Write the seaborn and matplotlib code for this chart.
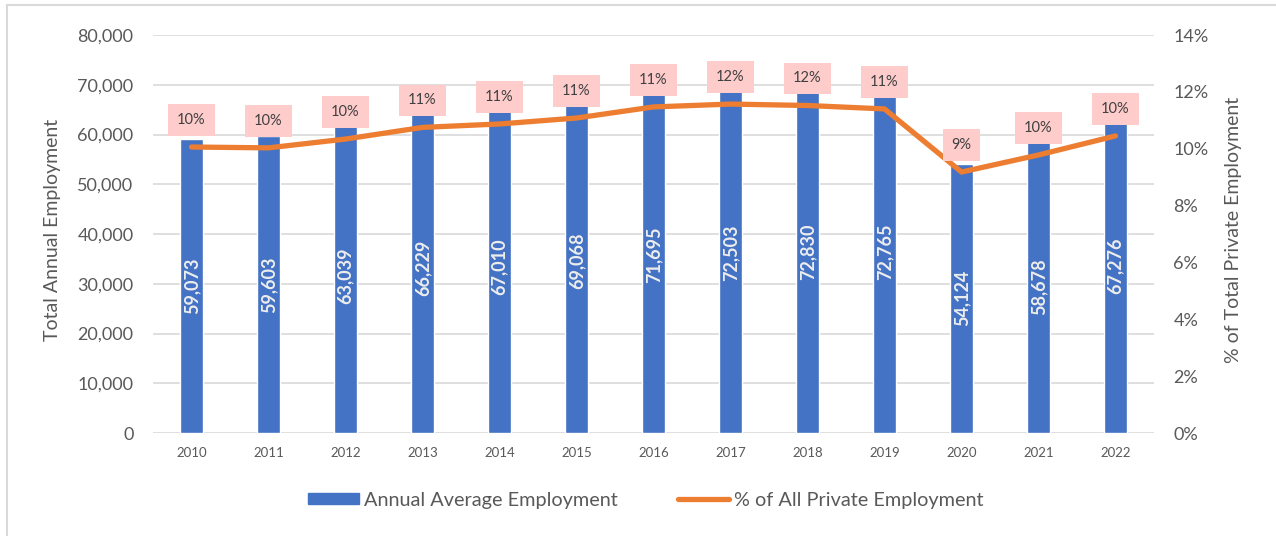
import matplotlib
matplotlib.use("Agg")
import matplotlib.pyplot as plt
import matplotlib.lines as mlines
import matplotlib.patches as mpatches
import seaborn as sns
import pandas as pd

# data
years = ["2010", "2011", "2012", "2013", "2014", "2015", "2016",
         "2017", "2018", "2019", "2020", "2021", "2022"]
employment = [59073, 59603, 63039, 66229, 67010, 69068, 71695,
              72503, 72830, 72765, 54124, 58678, 67276]
pct_private = [10.06, 10.03, 10.34, 10.75, 10.87, 11.08, 11.47,
               11.57, 11.52, 11.40, 9.18, 9.78, 10.45]

blue = "#4472C4"
orange = "#ED7D31"
grey_txt = "#595959"
grid_col = "#D9D9D9"

sns.set_theme(style="white")
plt.rcParams["font.family"] = ["Lato", "DejaVu Sans"]

df = pd.DataFrame({"year": years, "emp": employment, "pct": pct_private})
df["pos"] = range(len(df))

fig = plt.figure(figsize=(12.76, 5.36), dpi=100)
ax = fig.add_axes([153 / 1276, 103 / 536, 1001 / 1276, 398 / 536])

sns.barplot(data=df, x="year", y="emp", ax=ax, color=blue,
            saturation=1, width=0.31, zorder=2)
ax.set_ylim(0, 80000)
ax.set_xlim(-0.5, len(years) - 0.5)
ax.set_yticks(range(0, 80001, 10000))
ax.yaxis.set_major_formatter(matplotlib.ticker.FuncFormatter(lambda v, p: f"{v:,.0f}"))
ax.grid(axis="y", color=grid_col, lw=1.2, zorder=0)
for s in ax.spines.values():
    s.set_visible(False)
ax.tick_params(axis="y", length=0, pad=14, labelsize=13, labelcolor=grey_txt)
ax.tick_params(axis="x", length=0, pad=10, labelsize=9.5, labelcolor=grey_txt)
ax.set_xlabel("")
ax.set_ylabel("Total Annual Employment", fontsize=14, color=grey_txt)
ax.yaxis.set_label_coords(-0.092, 0.51)

# value labels centred inside bars
for i, v in enumerate(employment):
    ax.text(i, v / 2, f"{v:,}", rotation=90, ha="center", va="center",
            fontsize=13, fontweight="bold", color="#EDEDED", zorder=3)

ax2 = ax.twinx()
sns.lineplot(data=df, x="pos", y="pct", ax=ax2, color=orange, lw=3.8,
             solid_capstyle="round", solid_joinstyle="round")
ax2.set_ylim(0, 14)
ax2.set_yticks(range(0, 15, 2))
ax2.set_yticklabels([f"{t}%" for t in range(0, 15, 2)])
for s in ax2.spines.values():
    s.set_visible(False)
ax2.tick_params(axis="y", length=0, pad=14, labelsize=13, labelcolor=grey_txt)
ax2.set_xlabel("")
ax2.set_ylabel("% of Total Private Employment", fontsize=14, color=grey_txt)
ax2.yaxis.set_label_coords(1.071, 0.51)
ax2.set_xlim(-0.5, len(years) - 0.5)

for i, p in enumerate(pct_private):
    ax2.annotate(f"{p:.0f}%", (i, p), xytext=(0, 19.5), textcoords="offset points",
                 ha="center", va="center", fontsize=10.5, color="#404040",
                 bbox=dict(boxstyle="square,pad=0.6", fc="#FFCCCC", ec="none"))

handles = [mpatches.Patch(color=blue, label="Annual Average Employment"),
           mlines.Line2D([], [], color=orange, lw=3.8, solid_capstyle="round",
                         label="% of All Private Employment")]
fig.legend(handles=handles, loc="center", bbox_to_anchor=(0.506, 0.067), ncol=2,
           frameon=False, fontsize=14.3, handlelength=2.6, handleheight=0.45,
           handletextpad=0.25, columnspacing=3.0, labelcolor=grey_txt)

# light frame at the top/left edges
fig.add_artist(mlines.Line2D([7 / 1276, 7 / 1276], [0, 1 - 5 / 536], color=grid_col, lw=1.5))
fig.add_artist(mlines.Line2D([7 / 1276, 1], [1 - 5 / 536, 1 - 5 / 536], color=grid_col, lw=1.5))

fig.savefig("out.png", dpi=100)
